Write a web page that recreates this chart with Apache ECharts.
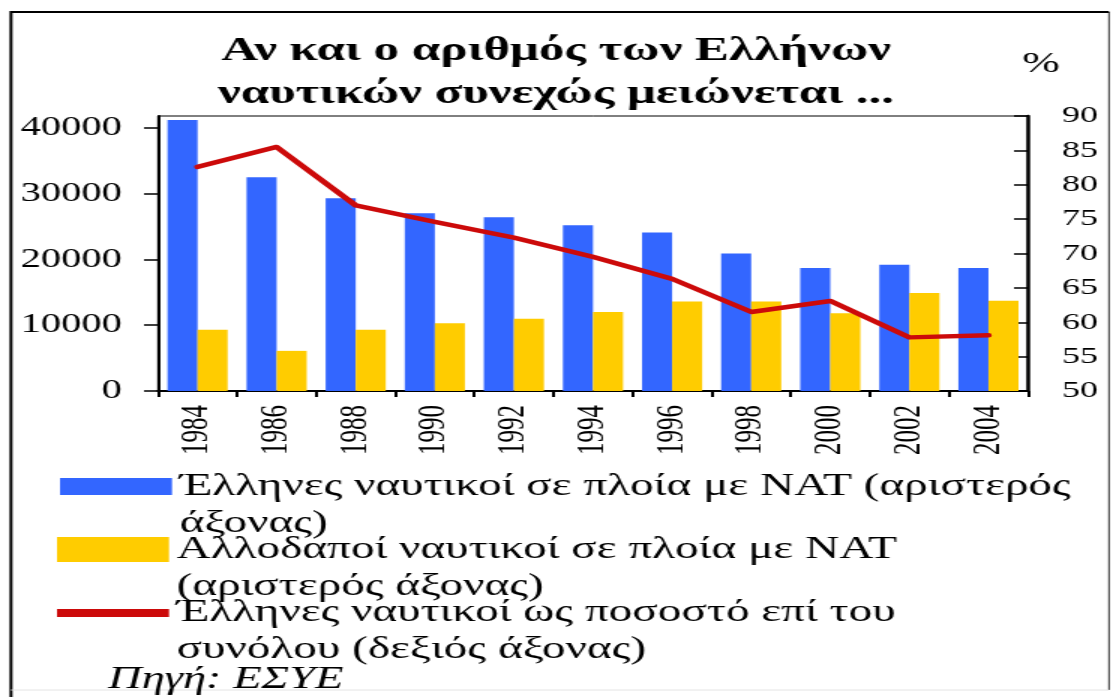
<!DOCTYPE html>
<html>
<head>
<meta charset="utf-8">
<title>Έλληνες ναυτικοί σε πλοία με ΝΑΤ</title>
<script src="https://cdn.jsdelivr.net/npm/echarts@6/dist/echarts.min.js"></script>
<style>
  html, body { margin: 0; padding: 0; background: #fff; }
  #frame { width: 1112px; height: 697px; overflow: hidden; position: relative; background: #fff; }
  #chart { position: absolute; left: 0; top: 0; height: 697px; transform-origin: 0 0; }
</style>
</head>
<body>
<div id="frame"><div id="chart"></div></div>
<script>
// Years on the category axis
const years = ['1984', '1986', '1988', '1990', '1992', '1994', '1996', '1998', '2000', '2002', '2004'];

// Greek seafarers on Greek-flag ships (left axis)
const greekSeafarers = [41200, 32500, 29300, 27000, 26400, 25200, 24100, 20900, 18700, 19200, 18700];

// Foreign seafarers on Greek-flag ships (left axis)
const foreignSeafarers = [9300, 6100, 9300, 10300, 11000, 12000, 13600, 13600, 11800, 14900, 13700];

// Greek seafarers as a share of the total, % (right axis)
const greekShare = [82.6, 85.5, 77.0, 74.6, 72.3, 69.5, 66.3, 61.5, 63.1, 57.8, 58.1];

// Axis ranges
const leftAxisRange = { min: 0, max: 41800, step: 10000 };
const rightAxisRange = { min: 50, max: 90, step: 5 };

// Titles and legend wording
const titleLines = ['Αν και ο αριθμός των Ελλήνων', 'ναυτικών συνεχώς μειώνεται ...'];
const legendGreek = ['Έλληνες ναυτικοί σε πλοία με ΝΑΤ (αριστερός', 'άξονας)'];
const legendForeign = ['Αλλοδαποί ναυτικοί σε πλοία με ΝΑΤ', '(αριστερός άξονας)'];
const legendShare = ['Έλληνες ναυτικοί ως ποσοστό επί του', 'συνόλου (δεξιός άξονας)'];
const sourceNote = 'Πηγή: ΕΣΥΕ';

// The canvas is drawn narrow and widened with CSS, giving the wide lettering of the original graphic.
const STRETCH = 1.5;
const W = 1112 / STRETCH;
const H = 697;
const hx = v => v / STRETCH;

const el = document.getElementById('chart');
el.style.width = W + 'px';
el.style.transform = 'scaleX(' + STRETCH + ')';

const serif = '"Liberation Serif", "Times New Roman", "DejaVu Serif", serif';
const black = '#000';
const BLUE = '#3366ff';
const YELLOW = '#ffcc00';
const RED = '#cc0a0a';
const LEGEND_LINE = 37;

const nameGreek = legendGreek.join(' ');
const nameForeign = legendForeign.join(' ');
const nameShare = legendShare.join(' ');

// One legend block per series. The caption gets a blank leading line so that,
// centred on the swatch, its first real line sits level with the swatch.
function legendBlock(seriesName, lines, iconLeft, iconCenterY, iconHeight) {
  return {
    show: true,
    orient: 'horizontal',
    left: hx(iconLeft),
    top: iconCenterY - 1.5 * LEGEND_LINE,
    padding: 0,
    selectedMode: false,
    itemWidth: hx(112),
    itemHeight: iconHeight,
    icon: 'rect',
    itemStyle: { borderWidth: 0 },
    data: [{ name: seriesName, icon: 'rect' }],
    formatter: function () { return [' '].concat(lines).join('\n'); },
    textStyle: {
      fontFamily: serif,
      fontSize: 31.5,
      lineHeight: LEGEND_LINE,
      color: black
    }
  };
}

const chart = echarts.init(el, null, { renderer: 'canvas', width: W, height: H });

chart.setOption({
  animation: false,
  backgroundColor: '#fff',
  title: [
    {
      text: titleLines.join('\n'),
      left: 'center',
      top: 30,
      padding: 0,
      textStyle: {
        fontFamily: serif,
        fontSize: 34,
        fontWeight: 'bold',
        lineHeight: 43,
        color: black
      }
    },
    {
      text: sourceNote,
      left: hx(108),
      top: 663,
      padding: 0,
      textStyle: {
        fontFamily: serif,
        fontSize: 31,
        fontStyle: 'italic',
        fontWeight: 'normal',
        lineHeight: 34,
        color: black
      }
    }
  ],
  legend: [
    legendBlock(nameGreek, legendGreek, 60, 486.5, 17),
    legendBlock(nameForeign, legendForeign, 57, 549.5, 25),
    legendBlock(nameShare, legendShare, 57, 613, 8)
  ],
  grid: {
    left: hx(158),
    right: hx(1112 - 1028),
    top: 116,
    bottom: H - 391,
    show: true,
    borderColor: black,
    borderWidth: 1,
    backgroundColor: 'transparent'
  },
  xAxis: {
    type: 'category',
    data: years,
    boundaryGap: true,
    axisLine: { show: true, lineStyle: { color: black, width: 2 } },
    axisTick: { show: true, inside: false, length: 6, lineStyle: { color: black, width: 2 } },
    axisLabel: {
      rotate: 90,
      margin: 14,
      fontFamily: serif,
      fontSize: 25,
      color: black
    },
    splitLine: { show: false }
  },
  yAxis: [
    {
      type: 'value',
      position: 'left',
      min: leftAxisRange.min,
      max: leftAxisRange.max,
      interval: leftAxisRange.step,
      axisLine: { show: true, lineStyle: { color: black, width: 2 } },
      axisTick: { show: true, inside: false, length: hx(14), lineStyle: { color: black, width: 1.5 } },
      axisLabel: {
        margin: hx(36),
        showMaxLabel: false,
        formatter: function (v) { return String(v); },
        fontFamily: serif,
        fontSize: 27,
        color: black
      },
      splitLine: { show: false }
    },
    {
      type: 'value',
      position: 'right',
      min: rightAxisRange.min,
      max: rightAxisRange.max,
      interval: rightAxisRange.step,
      name: '%',
      nameLocation: 'end',
      nameGap: 52,
      nameTextStyle: {
        fontFamily: serif,
        fontSize: 30,
        color: black,
        align: 'center',
        verticalAlign: 'middle',
        padding: [0, 0, 0, hx(26)]
      },
      axisLine: { show: true, lineStyle: { color: black, width: 2.5 } },
      axisTick: { show: true, inside: true, length: hx(14), lineStyle: { color: black, width: 1.5 } },
      axisLabel: {
        margin: hx(34),
        fontFamily: serif,
        fontSize: 24,
        color: black
      },
      splitLine: { show: false }
    }
  ],
  series: [
    {
      name: nameGreek,
      type: 'bar',
      yAxisIndex: 0,
      data: greekSeafarers,
      barWidth: '38%',
      barGap: '0%',
      itemStyle: { color: BLUE }
    },
    {
      name: nameForeign,
      type: 'bar',
      yAxisIndex: 0,
      data: foreignSeafarers,
      barWidth: '38%',
      barGap: '0%',
      itemStyle: { color: YELLOW }
    },
    {
      name: nameShare,
      type: 'line',
      yAxisIndex: 1,
      data: greekShare,
      symbol: 'none',
      z: 5,
      color: RED,
      lineStyle: { color: RED, width: 4.5, join: 'round', cap: 'round' }
    }
  ],
  graphic: [
    {
      type: 'polyline',
      silent: true,
      shape: { points: [[hx(11), H], [hx(11), 12], [hx(1109), 12]] },
      style: { stroke: black, lineWidth: 2, fill: null }
    },
    {
      type: 'line',
      silent: true,
      shape: { x1: hx(1109), y1: 12, x2: hx(1109), y2: 690 },
      style: { stroke: black, lineWidth: 0.8 }
    },
    {
      type: 'line',
      silent: true,
      shape: { x1: hx(11), y1: 690, x2: hx(1109), y2: 690 },
      style: { stroke: '#e4e4e4', lineWidth: 1 }
    }
  ]
});
</script>
</body>
</html>
